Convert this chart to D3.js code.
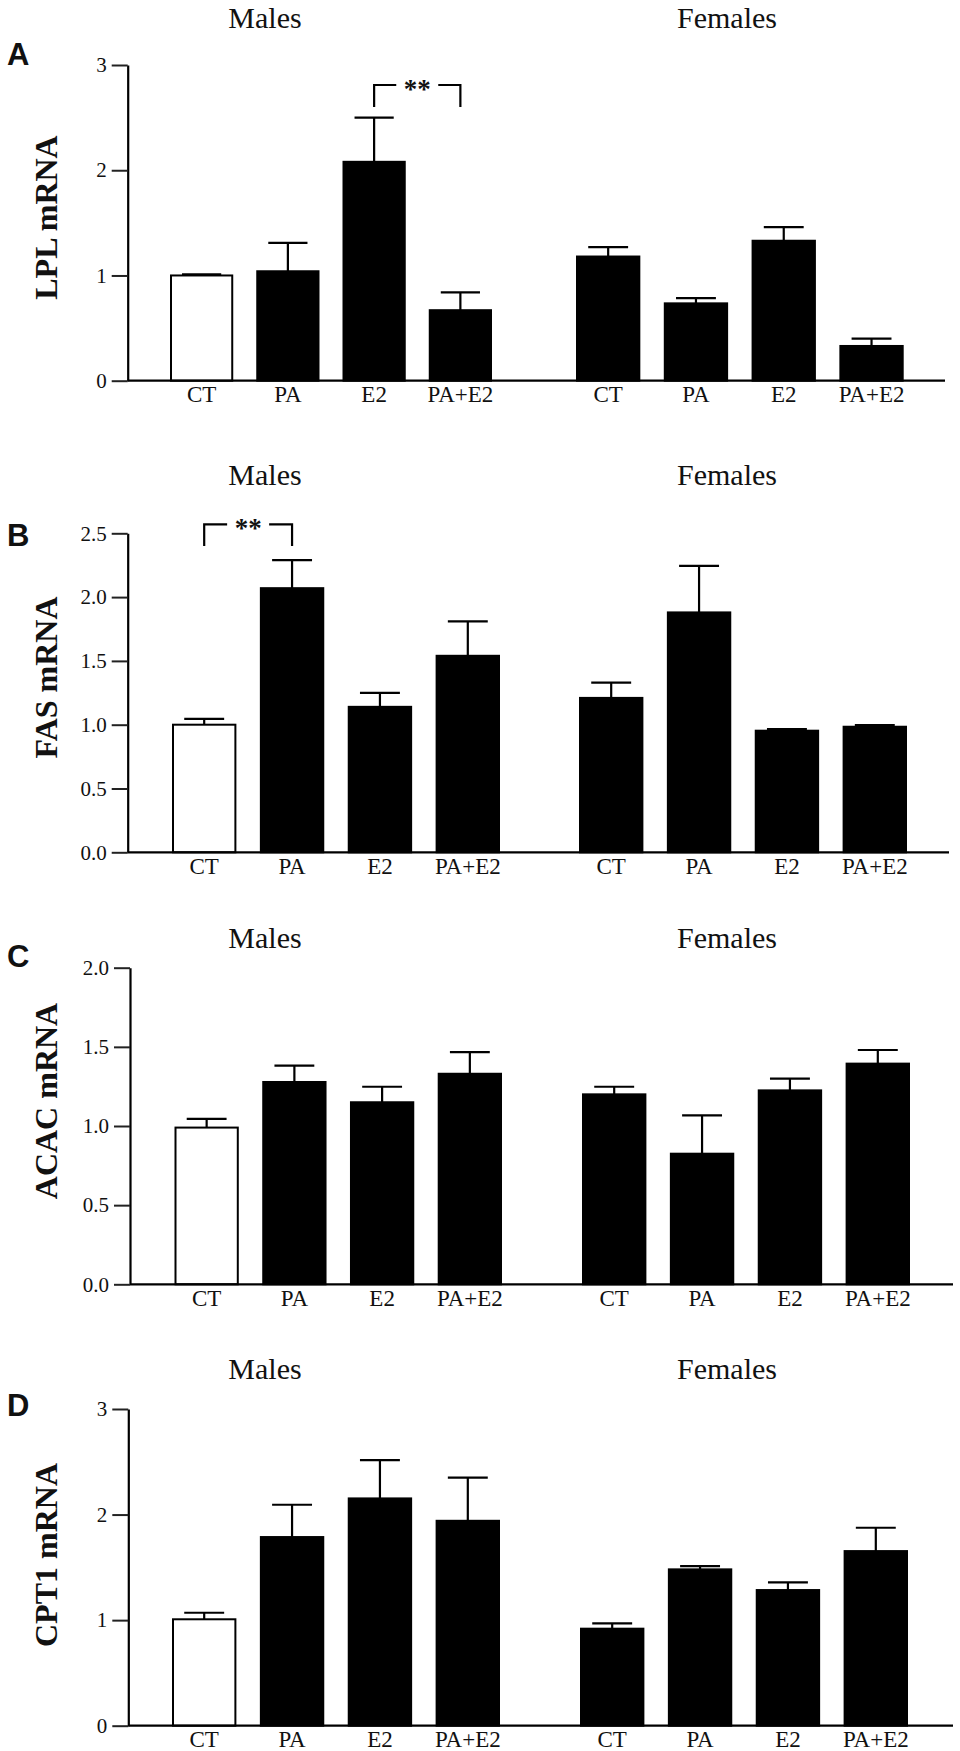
<!DOCTYPE html>
<html>
<head>
<meta charset="utf-8">
<script src="https://cdn.jsdelivr.net/npm/d3@7"></script>
<style>
  body { margin: 0; background: #fff; }
  text { fill: #111; }
</style>
</head>
<body>
<div id="body"></div>
<script>
// categories
let groups = ["Males", "Females"]
let treatments = ["CT", "PA", "E2", "PA+E2"]
let genes = ["LPL", "FAS", "ACAC", "CPT1"]
let letters = ["A", "B", "C", "D"]

// y axis ranges and ticks
let yMax = [3, 2.5, 2.0, 3]
let lplTicks = [0, 1, 2, 3]
let fasTicks = [0, 0.5, 1.0, 1.5, 2.0, 2.5]
let acacTicks = [0, 0.5, 1.0, 1.5, 2.0]
let cpt1Ticks = [0, 1, 2, 3]

// means and SEM
let lplMales = [1.00, 1.04, 2.08, 0.67]
let lplMalesSem = [0.01, 0.27, 0.42, 0.17]
let lplFemales = [1.18, 0.735, 1.33, 0.33]
let lplFemalesSem = [0.09, 0.05, 0.13, 0.07]

let fasMales = [1.00, 2.07, 1.14, 1.54]
let fasMalesSem = [0.045, 0.22, 0.11, 0.27]
let fasFemales = [1.21, 1.88, 0.953, 0.984]
let fasFemalesSem = [0.12, 0.365, 0.013, 0.013]

let acacMales = [0.99, 1.278, 1.15, 1.33]
let acacMalesSem = [0.055, 0.103, 0.098, 0.137]
let acacFemales = [1.20, 0.825, 1.225, 1.394]
let acacFemalesSem = [0.048, 0.242, 0.074, 0.086]

let cpt1Males = [1.008, 1.787, 2.153, 1.941]
let cpt1MalesSem = [0.062, 0.306, 0.363, 0.408]
let cpt1Females = [0.919, 1.481, 1.285, 1.654]
let cpt1FemalesSem = [0.051, 0.031, 0.073, 0.221]

// significance brackets
let lplBrackets = [{group: "Males", from: "E2", to: "PA+E2", top: 2.81, leg: 2.60, label: "**"}]
let fasBrackets = [{group: "Males", from: "CT", to: "PA", top: 2.57, leg: 2.40, label: "**"}]

let panelData = [
	{ticks: lplTicks, males: lplMales, malesSem: lplMalesSem, females: lplFemales, femalesSem: lplFemalesSem, brackets: lplBrackets, fmt: "d"},
	{ticks: fasTicks, males: fasMales, malesSem: fasMalesSem, females: fasFemales, femalesSem: fasFemalesSem, brackets: fasBrackets, fmt: ".1f"},
	{ticks: acacTicks, males: acacMales, malesSem: acacMalesSem, females: acacFemales, femalesSem: acacFemalesSem, brackets: [], fmt: ".1f"},
	{ticks: cpt1Ticks, males: cpt1Males, malesSem: cpt1MalesSem, females: cpt1Females, femalesSem: cpt1FemalesSem, brackets: [], fmt: "d"}
]

//layout of each panel on the page
let layout = [
	{top: 65, bottom: 380.7, axisX: 127.7, xEnd: 945, male: [171, 491], female: [577, 902.7], titleY: 28, letterY: 65, yTitle: 217.5},
	{top: 533.3, bottom: 852.3, axisX: 127.7, xEnd: 949, male: [173, 499], female: [580, 906], titleY: 485, letterY: 546, yTitle: 677.5},
	{top: 967.7, bottom: 1284.3, axisX: 130, xEnd: 953, male: [175.5, 501], female: [583, 909], titleY: 948.3, letterY: 967, yTitle: 1101},
	{top: 1409, bottom: 1725.7, axisX: 128.3, xEnd: 953, male: [173, 499], female: [581, 907], titleY: 1379.3, letterY: 1416, yTitle: 1555}
]

let serif = "'Liberation Serif', 'Times New Roman', Times, serif"
let sans = "'Liberation Sans', Arial, Helvetica, sans-serif"

let svg = d3.select("#body").append("svg")
	.attr("width", 960)
	.attr("height", 1751)

panelData.forEach(function(p, i) {
	let L = layout[i]
	let g = svg.append("g")

	let yscale = d3.scaleLinear()
		.domain([0, yMax[i]])
		.range([L.bottom, L.top])

	let xscales = {
		Males: d3.scaleBand().domain(treatments).range(L.male).paddingInner(0.29).paddingOuter(0),
		Females: d3.scaleBand().domain(treatments).range(L.female).paddingInner(0.29).paddingOuter(0)
	}

	let rows = []
	treatments.forEach(function(t, j) {
		rows.push({group: "Males", treatment: t, value: p.males[j], sem: p.malesSem[j]})
		rows.push({group: "Females", treatment: t, value: p.females[j], sem: p.femalesSem[j]})
	})

	//group titles
	g.selectAll(".grouptitle")
		.data(groups)
		.enter()
		.append("text")
		.attr("x", (d, k) => k === 0 ? 265 : 727)
		.attr("y", L.titleY)
		.attr("text-anchor", "middle")
		.style("font-family", serif)
		.style("font-size", "30px")
		.text(d => d)

	//panel letter
	g.append("text")
		.attr("x", 7)
		.attr("y", L.letterY)
		.style("font-family", sans)
		.style("font-weight", "bold")
		.style("font-size", "31px")
		.text(letters[i])

	//y axis title
	g.append("text")
		.attr("transform", "translate(57," + L.yTitle + ") rotate(-90)")
		.attr("text-anchor", "middle")
		.style("font-family", serif)
		.style("font-weight", "bold")
		.style("font-size", "32px")
		.text(genes[i] + " mRNA")

	//bars
	g.selectAll(".bar")
		.data(rows)
		.enter()
		.append("rect")
		.attr("x", d => xscales[d.group](d.treatment))
		.attr("width", d => xscales[d.group].bandwidth())
		.attr("y", d => yscale(d.value))
		.attr("height", d => yscale(0) - yscale(d.value))
		.attr("fill", d => (d.group === "Males" && d.treatment === "CT") ? "#fff" : "#000")
		.attr("stroke", "#000")
		.attr("stroke-width", 2)

	//error bars (upper only)
	let err = g.selectAll(".err")
		.data(rows)
		.enter()
		.append("g")
		.attr("stroke", "#000")
		.attr("stroke-width", 2.2)

	err.append("line")
		.attr("x1", d => xscales[d.group](d.treatment) + xscales[d.group].bandwidth() / 2)
		.attr("x2", d => xscales[d.group](d.treatment) + xscales[d.group].bandwidth() / 2)
		.attr("y1", d => yscale(d.value))
		.attr("y2", d => yscale(d.value + d.sem))

	err.append("line")
		.attr("x1", d => xscales[d.group](d.treatment) + xscales[d.group].bandwidth() * 0.18)
		.attr("x2", d => xscales[d.group](d.treatment) + xscales[d.group].bandwidth() * 0.82)
		.attr("y1", d => yscale(d.value + d.sem))
		.attr("y2", d => yscale(d.value + d.sem))

	//y axis
	let yAxis = g.append("g")
		.attr("transform", "translate(" + L.axisX + ",0)")
		.call(d3.axisLeft(yscale)
			.tickValues(p.ticks)
			.tickFormat(d3.format(p.fmt))
			.tickSize(16)
			.tickSizeOuter(0)
			.tickPadding(5))
	yAxis.select(".domain").attr("stroke", "#000").attr("stroke-width", 2.2)
	yAxis.selectAll(".tick line").attr("stroke", "#222").attr("stroke-width", 2)
	yAxis.selectAll(".tick text")
		.style("font-family", serif)
		.style("font-size", "21px")
		.attr("fill", "#111")

	//x axis baseline
	g.append("line")
		.attr("x1", L.axisX)
		.attr("x2", L.xEnd)
		.attr("y1", yscale(0))
		.attr("y2", yscale(0))
		.attr("stroke", "#000")
		.attr("stroke-width", 2.2)

	//category labels
	groups.forEach(function(grp) {
		let xa = g.append("g")
			.attr("transform", "translate(0," + yscale(0) + ")")
			.call(d3.axisBottom(xscales[grp]).tickSize(0).tickPadding(5))
		xa.select(".domain").remove()
		xa.selectAll(".tick text")
			.style("font-family", serif)
			.style("font-size", "23px")
			.attr("fill", "#111")
	})

	//significance brackets
	p.brackets.forEach(function(b) {
		let xs = xscales[b.group]
		let x1 = xs(b.from) + xs.bandwidth() / 2
		let x2 = xs(b.to) + xs.bandwidth() / 2
		let mid = (x1 + x2) / 2
		let yt = yscale(b.top)
		let yl = yscale(b.leg)

		g.append("path")
			.attr("d", "M" + x1 + "," + yl + "V" + yt + "H" + (mid - 21))
			.attr("fill", "none")
			.attr("stroke", "#000")
			.attr("stroke-width", 2.2)
		g.append("path")
			.attr("d", "M" + (mid + 21) + "," + yt + "H" + x2 + "V" + yl)
			.attr("fill", "none")
			.attr("stroke", "#000")
			.attr("stroke-width", 2.2)

		g.append("text")
			.attr("x", mid)
			.attr("y", yt + 13)
			.attr("text-anchor", "middle")
			.style("font-family", serif)
			.style("font-weight", "bold")
			.style("font-size", "27px")
			.text(b.label)
	})
})
</script>
</body>
</html>
